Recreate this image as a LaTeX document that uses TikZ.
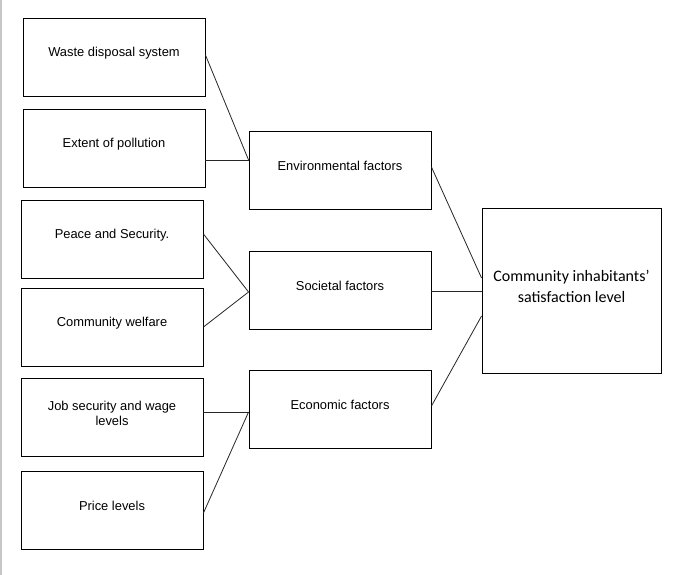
\documentclass[tikz,border=0pt]{standalone}
\usepackage{fontspec}
\setmainfont{Liberation Sans}
\newfontfamily\calibri{Carlito}
\usepackage{tikz}
\usetikzlibrary{positioning}

\begin{document}
\begin{tikzpicture}[x=1pt,y=-1pt,
  box/.style={draw=black,line width=0.9pt,minimum width=182pt,minimum height=78pt,inner sep=0pt,
    label={[lbl]center:#1}},
  lbl/.style={yshift=4pt,align=center,font=\fontsize{12.9}{15}\selectfont},
  link/.style={draw=black!85,line width=0.8pt}]
\useasboundingbox[fill=white] (0,0) rectangle (683,575);
\draw[black!22,line width=1.3pt] (1,0) -- (1,575);
\node[box={Waste disposal system}] (waste) at (114,57) {};
\node[box={Extent of pollution}] (pollution) at (114,148) {};
\node[box={Peace and Security.}] (peace) at (112,239) {};
\node[box={Community welfare}] (welfare) at (112,327) {};
\node[box={Job security and wage\\levels}] (job) at (112,417) {};
\node[box={Price levels}] (price) at (112,510) {};
\node[box={Environmental factors}] (env) at (340,170) {};
\node[box={Societal factors}] (soc) at (340,290) {};
\node[box={Economic factors}] (econ) at (340,409) {};
\node[draw=black,line width=0.9pt,minimum width=179pt,minimum height=165pt,inner sep=0pt,
  label={[yshift=4pt,align=center,font=\calibri\fontsize{16}{21}\selectfont]center:Community inhabitants’\\satisfaction level}]
  (sat) at (571.5,290.5) {};
\draw[link] ([yshift=2pt]waste.east) -- ([yshift=10pt]env.west);
\draw[link] ([yshift=-12pt]pollution.east) -- ([yshift=10pt]env.west);
\draw[link] ([yshift=5pt]peace.east) -- ([yshift=-2pt]soc.west);
\draw[link] (welfare.east) -- ([yshift=-2pt]soc.west);
\draw[link] ([yshift=5pt]job.east) -- ([yshift=-3pt]econ.west);
\draw[link] ([yshift=-3pt]price.east) -- ([yshift=-3pt]econ.west);
\draw[link] ([yshift=3pt]env.east) -- ([yshift=12.5pt]sat.west);
\draw[link] ([yshift=-1pt]soc.east) -- ([yshift=-0.5pt]sat.west);
\draw[link] ([yshift=3pt]econ.east) -- ([yshift=-25.5pt]sat.west);
\end{tikzpicture}
\end{document}
